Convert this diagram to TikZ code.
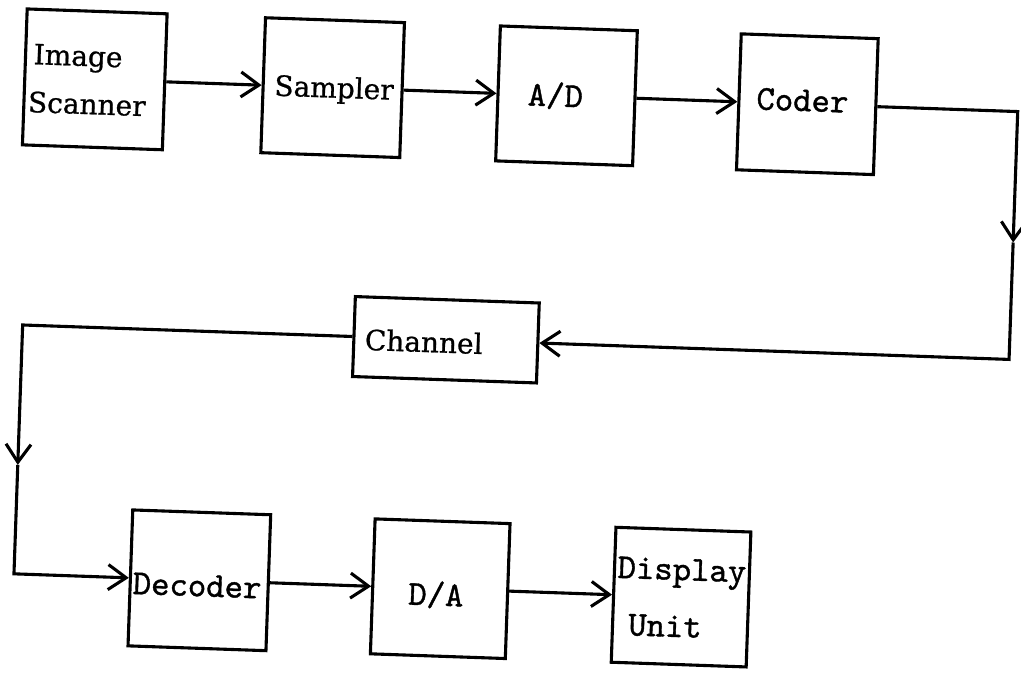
\documentclass[tikz,border=0pt]{standalone}
\usepackage{fontspec}
\setmonofont{lmmono10-regular.otf}[FakeBold=1.1]
\newfontfamily\slabserif{DejaVu Serif}[FakeBold=0.8]
\usetikzlibrary{arrows.meta}
\begin{document}
\begin{tikzpicture}[x=1pt,y=-1pt,
  box/.style={draw,line width=3.1pt,inner sep=0pt},
  mono/.style={font=\fontsize{35}{40}\selectfont\ttfamily,inner sep=0pt},
  prop/.style={font=\fontsize{28}{34}\selectfont\slabserif,inner sep=0pt},
  wire/.style={line width=3.1pt,line join=miter},
  flow/.style={wire,-{Straight Barb[length=18pt,width=25pt]}}]
\useasboundingbox (0,0) rectangle (1021,676);
\fill[white] (0,0) rectangle (1021,676);
\begin{scope}[rotate around={-2:(510,338)},transform shape]
  % blocks
  \node[box,minimum width=140pt,minimum height=136pt] (scan)  at (86,94)   {};
  \node[box,minimum width=139pt,minimum height=135pt] (samp)  at (324,94)  {};
  \node[box,minimum width=137pt,minimum height=135pt] (ad)    at (558,94)  {};
  \node[box,minimum width=137pt,minimum height=136pt] (coder) at (799,94)  {};
  \node[box,minimum width=184pt,minimum height=80pt]  (chan)  at (446,342) {};
  \node[box,minimum width=138pt,minimum height=136pt] (dec)   at (208,591) {};
  \node[box,minimum width=135pt,minimum height=135pt] (da)    at (449,591) {};
  \node[box,minimum width=135pt,minimum height=135pt] (disp)  at (690,591) {};
  % labels
  \node[prop,anchor=base west] (tImage) at ([shift={(-62,-13)}]scan.center) {Image};
  \node[prop,anchor=base west] (tScan)  at ([shift={(-66,35)}]scan.center) {Scanner};
  \node[prop,anchor=base] (tSamp)  at ([shift={(1.5,10)}]samp.center) {Sampler};
  \node[mono,anchor=base] (tAD)    at ([shift={(-11,11)}]ad.center) {A/D};
  \node[mono,anchor=base] (tCoder) at ([shift={(-5,7)}]coder.center) {Coder};
  \node[prop,anchor=base] (tChan)  at ([shift={(-22,13)}]chan.center) {Channel};
  \node[mono,anchor=base] (tDec)   at ([shift={(-2,16)}]dec.center) {Decoder};
  \node[mono,anchor=base] (tDA)    at ([shift={(-4,17)}]da.center) {D/A};
  \node[mono,anchor=base] (tDisp)  at ([shift={(0,-17)}]disp.center) {Display};
  \node[mono,anchor=base] (tUnit)  at ([shift={(-15,40)}]disp.center) {Unit};
  % signal path
  \draw[flow] (scan) -- (samp);
  \draw[flow] (samp) -- (ad);
  \draw[flow] (ad) -- (coder);
  \coordinate (rdown) at (1009.5,225);
  \draw[flow] (coder.east) -| (rdown);
  \draw[flow] (rdown) |- (chan.east);
  \coordinate (ldown) at (22.5,482);
  \draw[flow] (chan.west) -| (ldown);
  \draw[flow] (ldown) |- (dec.west);
  \draw[flow] (dec) -- (da);
  \draw[flow] (da) -- (disp);
\end{scope}
\end{tikzpicture}
\end{document}
